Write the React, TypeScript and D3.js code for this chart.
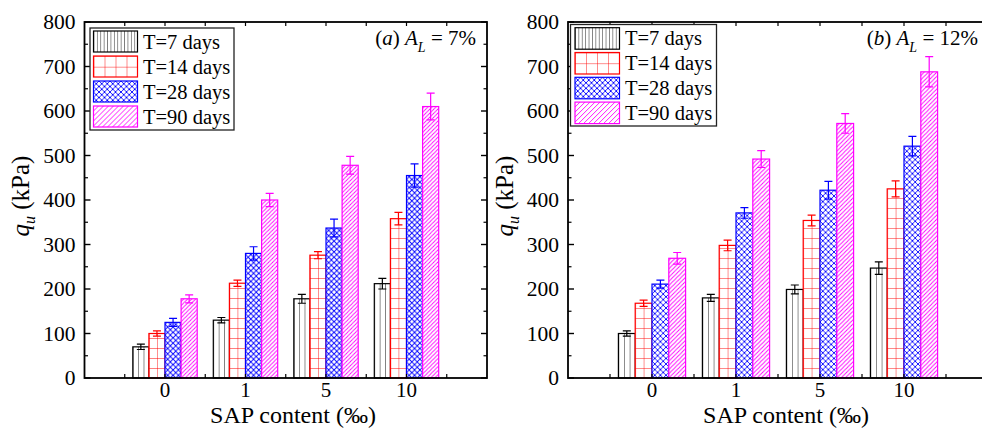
import React from "react";
import * as d3 from "d3";

const categories = ["0", "1", "5", "10"];
const seriesNames = ["T=7 days", "T=14 days", "T=28 days", "T=90 days"];
const seriesColors = ["#000000", "#ff0000", "#0000ff", "#ff00ff"];
const seriesKinds = ["v", "grid", "cross", "diag"];
const yTicks = [0, 100, 200, 300, 400, 500, 600, 700, 800];
const yMinorTicks = [50, 150, 250, 350, 450, 550, 650, 750];

// Panel (a) A_L = 7%
const aT7 = [70, 130, 178, 212];
const aT14 = [100, 213, 276, 358];
const aT28 = [125, 280, 337, 455];
const aT90 = [178, 400, 478, 610];
const aE7 = [6, 6, 10, 12];
const aE14 = [6, 7, 8, 14];
const aE28 = [9, 15, 20, 26];
const aE90 = [9, 15, 20, 30];

// Panel (b) A_L = 12%
const bT7 = [100, 180, 199, 247];
const bT14 = [168, 298, 354, 425];
const bT28 = [211, 371, 422, 521];
const bT90 = [269, 492, 572, 688];
const bE7 = [6, 8, 10, 14];
const bE14 = [7, 12, 12, 18];
const bE28 = [9, 12, 20, 22];
const bE90 = [13, 19, 22, 34];

const FONT = '"Liberation Serif", "Times New Roman", Times, serif';
const W = 982;
const H = 436;
const Y0 = 378;
const Y1 = 22;

const panels = [
  {
    id: "a",
    tag: "a",
    al: "7%",
    x0: 84.5,
    x1: 487,
    values: [aT7, aT14, aT28, aT90],
    errors: [aE7, aE14, aE28, aE90],
    legend: { x: 90, y: 28, w: 144, h: 102, sx: 93.5, sw: 44, tx: 143, row0: 31, pitch: 25, sh: 21 },
    yTitleX: 29,
    annX: 476,
    xTitleX: 293,
  },
  {
    id: "b",
    tag: "b",
    al: "12%",
    x0: 568,
    x1: 988,
    values: [bT7, bT14, bT28, bT90],
    errors: [bE7, bE14, bE28, bE90],
    legend: { x: 570.5, y: 24.5, w: 146, h: 101.5, sx: 575, sw: 44.5, tx: 625, row0: 27.7, pitch: 24.8, sh: 21.5 },
    yTitleX: 513,
    annX: 978,
    xTitleX: 786,
  },
];

function patternBody(kind: string, w: number, h: number, color: string) {
  const sw = 0.9;
  if (kind === "v") {
    return <line x1={0} y1={0} x2={0} y2={h} stroke={color} strokeWidth={sw} />;
  }
  if (kind === "grid") {
    return (
      <path d={`M0,0 L0,${h} M0,0 L${w},0`} stroke={color} strokeWidth={sw} fill="none" />
    );
  }
  if (kind === "cross") {
    return (
      <path d={`M0,0 L${w},${h} M0,${h} L${w},0`} stroke={color} strokeWidth={sw} fill="none" />
    );
  }
  return (
    <path
      d={`M-1,1 L1,-1 M0,${h} L${w},0 M${w - 1},${h + 1} L${w + 1},${h - 1}`}
      stroke={color}
      strokeWidth={sw}
      fill="none"
    />
  );
}

function patternSize(kind: string, bw: number, legend: boolean) {
  if (legend) {
    if (kind === "v") return [3.4, 10];
    if (kind === "grid") return [11, 10.7];
    if (kind === "cross") return [5.5, 5.5];
    return [5, 5];
  }
  if (kind === "v") return [bw / 3, 10];
  if (kind === "grid") return [bw / 2, 10];
  if (kind === "cross") return [bw / 3, bw / 3];
  return [bw / 4, bw / 4];
}

function Panel({ p }: { p: (typeof panels)[number] }) {
  const x = d3.scaleLinear().domain([0, 5]).range([p.x0, p.x1]);
  const y = d3.scaleLinear().domain([0, 800]).range([Y0, Y1]);
  const step = x(1) - x(0);
  const band = d3.scaleBand<string>().domain(seriesNames).range([-0.4 * step, 0.4 * step]).padding(0);
  const bw = band.bandwidth();
  const defs: React.ReactNode[] = [];
  const bars: React.ReactNode[] = [];
  const errs: React.ReactNode[] = [];
  seriesNames.forEach((s, si) => {
    const color = seriesColors[si];
    const kind = seriesKinds[si];
    const [pw, ph] = patternSize(kind, bw, false);
    categories.forEach((c, ci) => {
      const v = p.values[si][ci];
      const e = p.errors[si][ci];
      const bx = x(ci + 1) + (band(s) as number);
      const top = y(v);
      const pid = `pat-${p.id}-${si}-${ci}`;
      defs.push(
        <pattern key={pid} id={pid} patternUnits="userSpaceOnUse" x={bx} y={Y0} width={pw} height={ph}>
          {patternBody(kind, pw, ph, color)}
        </pattern>
      );
      bars.push(
        <g key={pid}>
          <rect x={bx} y={top} width={bw} height={Y0 - top} fill="#fff" />
          <rect x={bx} y={top} width={bw} height={Y0 - top} fill={`url(#${pid})`} stroke={color} strokeWidth={1.2} />
        </g>
      );
      const cx = bx + bw / 2;
      const cap = 4;
      errs.push(
        <path
          key={pid + "e"}
          d={`M${cx},${y(v - e)} L${cx},${y(v + e)} M${cx - cap},${y(v + e)} L${cx + cap},${y(v + e)} M${cx - cap},${y(v - e)} L${cx + cap},${y(v - e)}`}
          stroke={color}
          strokeWidth={1.2}
          fill="none"
        />
      );
    });
  });

  const L = p.legend;
  const legendItems = seriesNames.map((s, si) => {
    const kind = seriesKinds[si];
    const color = seriesColors[si];
    const [pw, ph] = patternSize(kind, bw, true);
    const ry = L.row0 + si * L.pitch;
    const pid = `lpat-${p.id}-${si}`;
    defs.push(
      <pattern key={pid} id={pid} patternUnits="userSpaceOnUse" x={L.sx} y={ry} width={pw} height={ph}>
        {patternBody(kind, pw, ph, color)}
      </pattern>
    );
    return (
      <g key={pid}>
        <rect x={L.sx} y={ry} width={L.sw} height={L.sh} fill="#fff" />
        <rect x={L.sx} y={ry} width={L.sw} height={L.sh} fill={`url(#${pid})`} stroke={color} strokeWidth={1.2} />
        <text x={L.tx} y={ry + L.sh / 2 + 7} fontSize={20.5} fontFamily={FONT} fill="#000">
          {s}
        </text>
      </g>
    );
  });

  const xTickPos = d3.range(1, 10).map((k) => k / 2);

  return (
    <g>
      <defs>{defs}</defs>
      {bars}
      {errs}
      <rect x={p.x0} y={Y1} width={p.x1 - p.x0} height={Y0 - Y1} fill="none" stroke="#000" strokeWidth={1.8} />
      {yTicks.map((t) => (
        <g key={"yt" + t}>
          <line x1={p.x0} x2={p.x0 + 6} y1={y(t)} y2={y(t)} stroke="#000" strokeWidth={1.4} />
          <line x1={p.x1} x2={p.x1 - 6} y1={y(t)} y2={y(t)} stroke="#000" strokeWidth={1.4} />
          <text x={p.x0 - 9} y={y(t) + 7} textAnchor="end" fontSize={21.5} fontFamily={FONT}>
            {d3.format("d")(t)}
          </text>
        </g>
      ))}
      {yMinorTicks.map((t) => (
        <g key={"ym" + t}>
          <line x1={p.x0} x2={p.x0 + 3.5} y1={y(t)} y2={y(t)} stroke="#000" strokeWidth={1.2} />
          <line x1={p.x1} x2={p.x1 - 3.5} y1={y(t)} y2={y(t)} stroke="#000" strokeWidth={1.2} />
        </g>
      ))}
      {xTickPos.map((t) => (
        <g key={"xt" + t}>
          <line x1={x(t)} x2={x(t)} y1={Y0} y2={Y0 - 4} stroke="#000" strokeWidth={1.2} />
          <line x1={x(t)} x2={x(t)} y1={Y1} y2={Y1 + 4} stroke="#000" strokeWidth={1.2} />
        </g>
      ))}
      {categories.map((c, ci) => (
        <text key={"xl" + c} x={x(ci + 1)} y={396.5} textAnchor="middle" fontSize={21} fontFamily={FONT}>
          {c}
        </text>
      ))}
      <text x={p.xTitleX} y={423} textAnchor="middle" fontSize={24} fontFamily={FONT}>
        SAP content (‰)
      </text>
      <text
        transform={`translate(${p.yTitleX},${196}) rotate(-90)`}
        textAnchor="middle"
        fontSize={25}
        fontFamily={FONT}
      >
        <tspan fontStyle="italic">q</tspan>
        <tspan fontStyle="italic" fontSize={16} dy={6}>
          u
        </tspan>
        <tspan dy={-6}> (kPa)</tspan>
      </text>
      <text x={p.annX} y={45} textAnchor="end" fontSize={21} fontFamily={FONT}>
        <tspan>(</tspan>
        <tspan fontStyle="italic">{p.tag}</tspan>
        <tspan>) </tspan>
        <tspan fontStyle="italic">A</tspan>
        <tspan fontStyle="italic" fontSize={14} dy={7}>
          L
        </tspan>
        <tspan dy={-7}>{` = ${p.al}`}</tspan>
      </text>
      <rect x={L.x} y={L.y} width={L.w} height={L.h} fill="#fff" stroke="#222" strokeWidth={1.3} />
      {legendItems}
    </g>
  );
}

export default function App() {
  return (
    <svg
      width={W}
      height={H}
      viewBox={`0 0 ${W} ${H}`}
      style={{ position: "absolute", left: 0, top: 0, background: "#fff", fontFamily: FONT }}
    >
      <rect width={W} height={H} fill="#fff" />
      {panels.map((p) => (
        <Panel key={p.id} p={p} />
      ))}
    </svg>
  );
}
